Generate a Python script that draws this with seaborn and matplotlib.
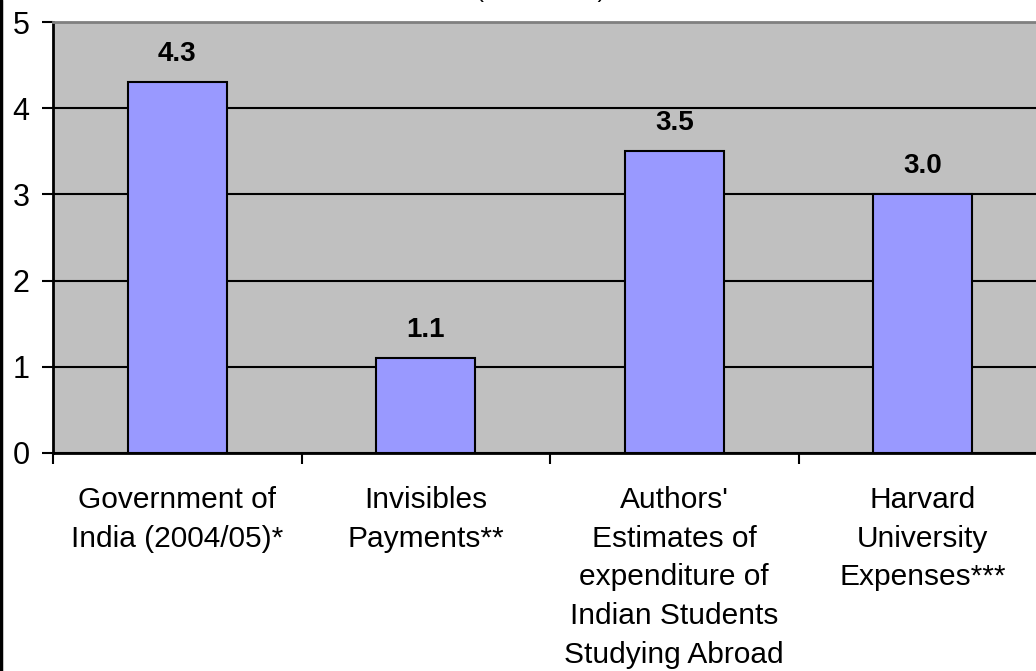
import matplotlib.pyplot as plt
import pandas as pd
import seaborn as sns
from matplotlib.lines import Line2D

# Values
categories = [
    "Government of\nIndia (2004/05)*",
    "Invisibles\nPayments**",
    "Authors'\nEstimates of\nexpenditure of\nIndian Students\nStudying Abroad",
    "Harvard\nUniversity\nExpenses***",
]
values = [4.3, 1.1, 3.5, 3.0]
y_ticks = [0, 1, 2, 3, 4, 5]


def main():
    sns.set_style("white", rc={"text.color": "black", "xtick.color": "black",
                               "ytick.color": "black", "axes.labelcolor": "black"})
    plt.rcParams["font.family"] = ["Liberation Sans", "DejaVu Sans"]

    df = pd.DataFrame({"source": categories, "value": values})

    fig = plt.figure(figsize=(10.36, 6.71), dpi=100)
    # plot area is cropped on the right in the original, so it runs past the figure edge
    ax = fig.add_axes([53 / 1036, 218 / 671, 994 / 1036, 431 / 671])
    ax.set_facecolor("#C0C0C0")

    sns.barplot(
        data=df,
        x="source",
        y="value",
        color="#9999FF",
        saturation=1,
        width=0.4,
        edgecolor="black",
        linewidth=1.5,
        ax=ax,
        zorder=3,
    )

    ax.set_xlim(-0.5, len(categories) - 0.5)
    ax.set_ylim(0, 5)
    ax.set_yticks(y_ticks)
    ax.yaxis.grid(True, color="black", linewidth=1.5, zorder=1)
    ax.set_axisbelow(True)

    # tick marks between categories, labels centred under the bars
    ax.set_xticks([i - 0.5 for i in range(len(categories) + 1)])
    ax.set_xticklabels([])
    ax.set_xticks(range(len(categories)), minor=True)
    ax.set_xticklabels(categories, minor=True, fontsize=21.5, linespacing=1.48)
    ax.tick_params(axis="x", which="major", length=8, width=1.5, color="black",
                   direction="out", bottom=True)
    ax.tick_params(axis="x", which="minor", length=0, pad=24)
    ax.tick_params(axis="y", length=8, width=1.5, color="black", direction="out",
                   left=True, labelsize=22, pad=9)
    ax.set_xlabel("")
    ax.set_ylabel("")

    for side in ["left", "bottom"]:
        ax.spines[side].set_color("black")
        ax.spines[side].set_linewidth(2)
    ax.spines["top"].set_color("#808080")
    ax.spines["top"].set_linewidth(2)
    ax.spines["right"].set_visible(False)

    for i, v in enumerate(values):
        ax.annotate(f"{v:.1f}", (i, v), xytext=(0, 15.5), textcoords="offset points",
                    ha="center", va="baseline", fontsize=20, fontweight="bold",
                    color="black")

    # title is cut off by the crop, only the bottom of it shows
    fig.text(541 / 1036, 1 + 3 / 671, "(US$ billion)", ha="center", va="baseline",
             fontsize=17)

    # left edge of the chart border
    fig.add_artist(Line2D([0.0013, 0.0013], [0, 1], transform=fig.transFigure,
                          color="black", linewidth=2.5))

    fig.savefig("out.png", dpi=100)
    plt.close(fig)


if __name__ == "__main__":
    main()
